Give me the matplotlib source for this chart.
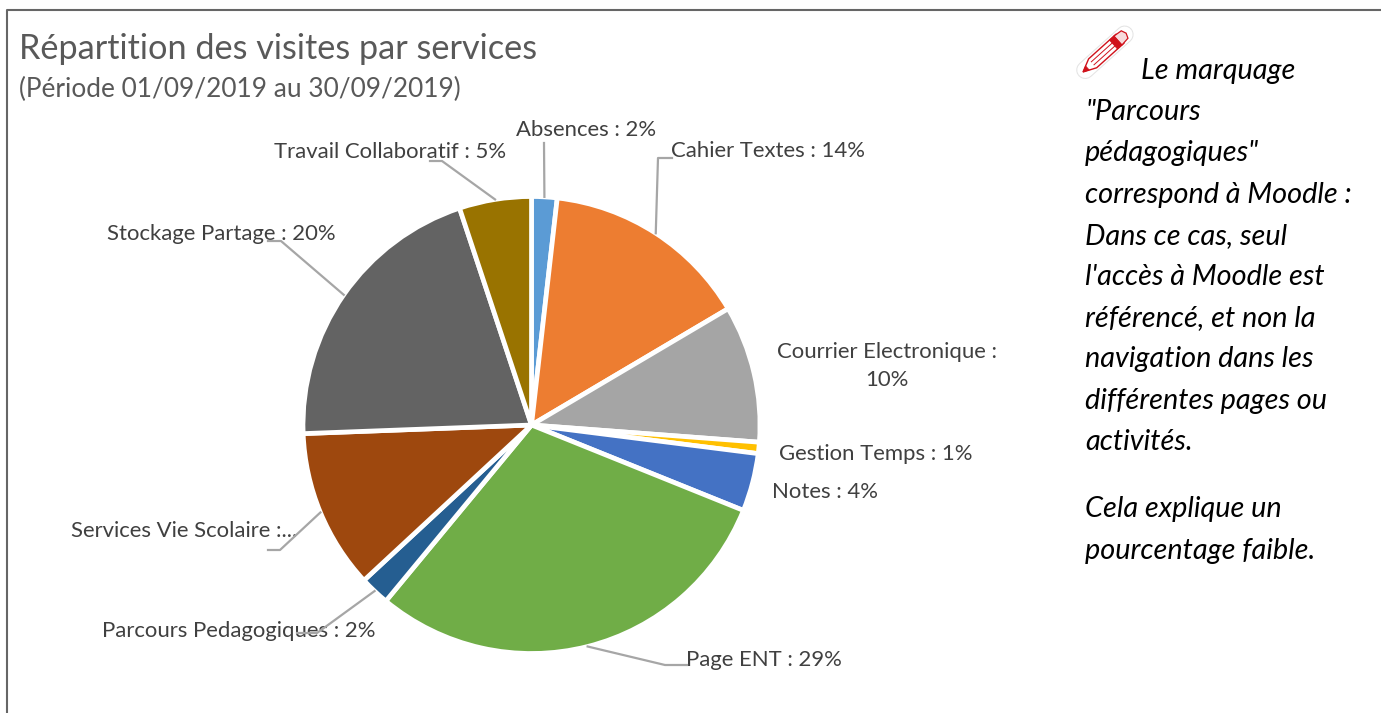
import numpy as np
import matplotlib
matplotlib.use("Agg")
import matplotlib.pyplot as plt
from matplotlib.patches import Polygon

plt.rcParams['font.family'] = ['Lato', 'DejaVu Sans']

services = ["Absences", "Cahier Textes", "Courrier Electronique", "Gestion Temps", "Notes",
            "Page ENT", "Parcours Pedagogiques", "Services Vie Scolaire", "Stockage Partage",
            "Travail Collaboratif"]
parts = [1.8, 14.7, 9.7, 0.8, 4.1, 29.9, 2.1, 11.3, 20.5, 5.1]
etiquettes = ["Absences : 2%", "Cahier Textes : 14%", "Courrier Electronique :\n10%", "Gestion Temps : 1%",
              "Notes : 4%", "Page ENT : 29%", "Parcours Pedagogiques : 2%", "Services Vie Scolaire :...",
              "Stockage Partage : 20%", "Travail Collaboratif : 5%"]
couleurs = ["#5B9BD5", "#ED7D31", "#A5A5A5", "#FFC000", "#4472C4",
            "#70AD47", "#255E91", "#9E480E", "#636363", "#997300"]

# position des etiquettes (centre, en pixels)
pos_etiq = [(586, 130), (768, 151), (887, 366), (876, 454), (825, 492),
            (764, 660), (239, 631), (184, 531), (221, 234), (390, 152)]
# coudes des traits de rappel, du texte vers la part
traits = {0: [(544, 143)],
          1: [(672, 158), (658, 158)],
          5: [(687, 665), (665, 665)],
          6: [(297, 633), (317, 633)],
          7: [(268, 550), (280, 550)],
          8: [(268, 241), (281, 241)],
          9: [(430, 161), (442, 161)]}

H = 713
fig = plt.figure(figsize=(13.81, 7.13), dpi=100)
ax = fig.add_axes([0, 0, 1, 1])

cx, cy, r = 531.5, 425, 228.5
ax.pie(parts, colors=couleurs, startangle=90, counterclock=False, center=(cx, H - cy), radius=r,
       wedgeprops=dict(edgecolor="white", linewidth=3.4))
ax.set_xlim(0, 1381)
ax.set_ylim(0, H)
ax.set_aspect("equal")
ax.axis("off")

# cadre
ax.plot([7.5, 7.5, 1381], [0, H - 9.5, H - 9.5], color="#666666", lw=1.5, clip_on=False)

ax.text(19, H - 49, "Répartition des visites par services", fontsize=24.7, color="#595959", va="center")
ax.text(19, H - 89, "(Période 01/09/2019 au 30/09/2019)", fontsize=18.9, color="#595959", va="center")

# etiquettes
cumul = np.cumsum([0] + parts)
for i, txt in enumerate(etiquettes):
    ax.text(pos_etiq[i][0], H - pos_etiq[i][1], txt, fontsize=15.9, color="#404040",
            ha="center", va="center", linespacing=1.5)
    if i in traits:
        a = np.radians((cumul[i] + parts[i] / 2) / sum(parts) * 360)
        xs = [p[0] for p in traits[i]] + [cx + r * np.sin(a)]
        ys = [H - p[1] for p in traits[i]] + [H - cy + r * np.cos(a)]
        ax.plot(xs, ys, color="#A6A6A6", lw=1.6, zorder=5)

# texte de droite
lignes = ["Le marquage", '"Parcours', "pédagogiques\"", "correspond à Moodle :", "Dans ce cas, seul",
          "l'accès à Moodle est", "référencé, et non la", "navigation dans les",
          "différentes pages ou", "activités."]
y = 71
for i, l in enumerate(lignes):
    ax.text(1141 if i == 0 else 1085, H - y, l, fontsize=20.8, style="italic", color="black", va="center")
    y += 41.2
ax.text(1085, H - 509, "Cela explique un", fontsize=20.8, style="italic", color="black", va="center")
ax.text(1085, H - 551, "pourcentage faible.", fontsize=20.8, style="italic", color="black", va="center")

# petit crayon
def crayon(pts):
    a = np.radians(42)
    u = np.array([np.cos(a), np.sin(a)])
    v = np.array([-np.sin(a), np.cos(a)])
    return [(1083 + p * u[0] + q * v[0], H - 72 + p * u[1] + q * v[1]) for p, q in pts]

rouge = "#D0121B"
# halo blanc autour du crayon
ax.plot(*zip(*crayon([(3, 0), (56, 0)])), color="#E4E4E4", lw=13, solid_capstyle="round", zorder=6)
ax.plot(*zip(*crayon([(3, 0), (56, 0)])), color="white", lw=11.5, solid_capstyle="round", zorder=6)
ax.add_patch(Polygon(crayon([(0, 0), (13, -6), (50, -6), (50, 6), (13, 6)]), fc="white", ec=rouge, lw=1.0, zorder=7))
ax.add_patch(Polygon(crayon([(0, 0), (6, -2.8), (6, 2.8)]), fc=rouge, ec=rouge, lw=0.5, zorder=8))
ax.add_patch(Polygon(crayon([(41, -6), (47, -6), (47, 6), (41, 6)]), fc=rouge, ec=rouge, lw=0.5, zorder=8))
ax.add_patch(Polygon(crayon([(47, -6), (56, -5), (58, 0), (56, 5), (47, 6)]), fc="#F7DADB", ec=rouge, lw=0.9, zorder=7))
for q in (-2, 2):
    ax.plot(*zip(*crayon([(13, q), (41, q)])), color=rouge, lw=0.7, zorder=8)

fig.savefig("out.png", dpi=100)
